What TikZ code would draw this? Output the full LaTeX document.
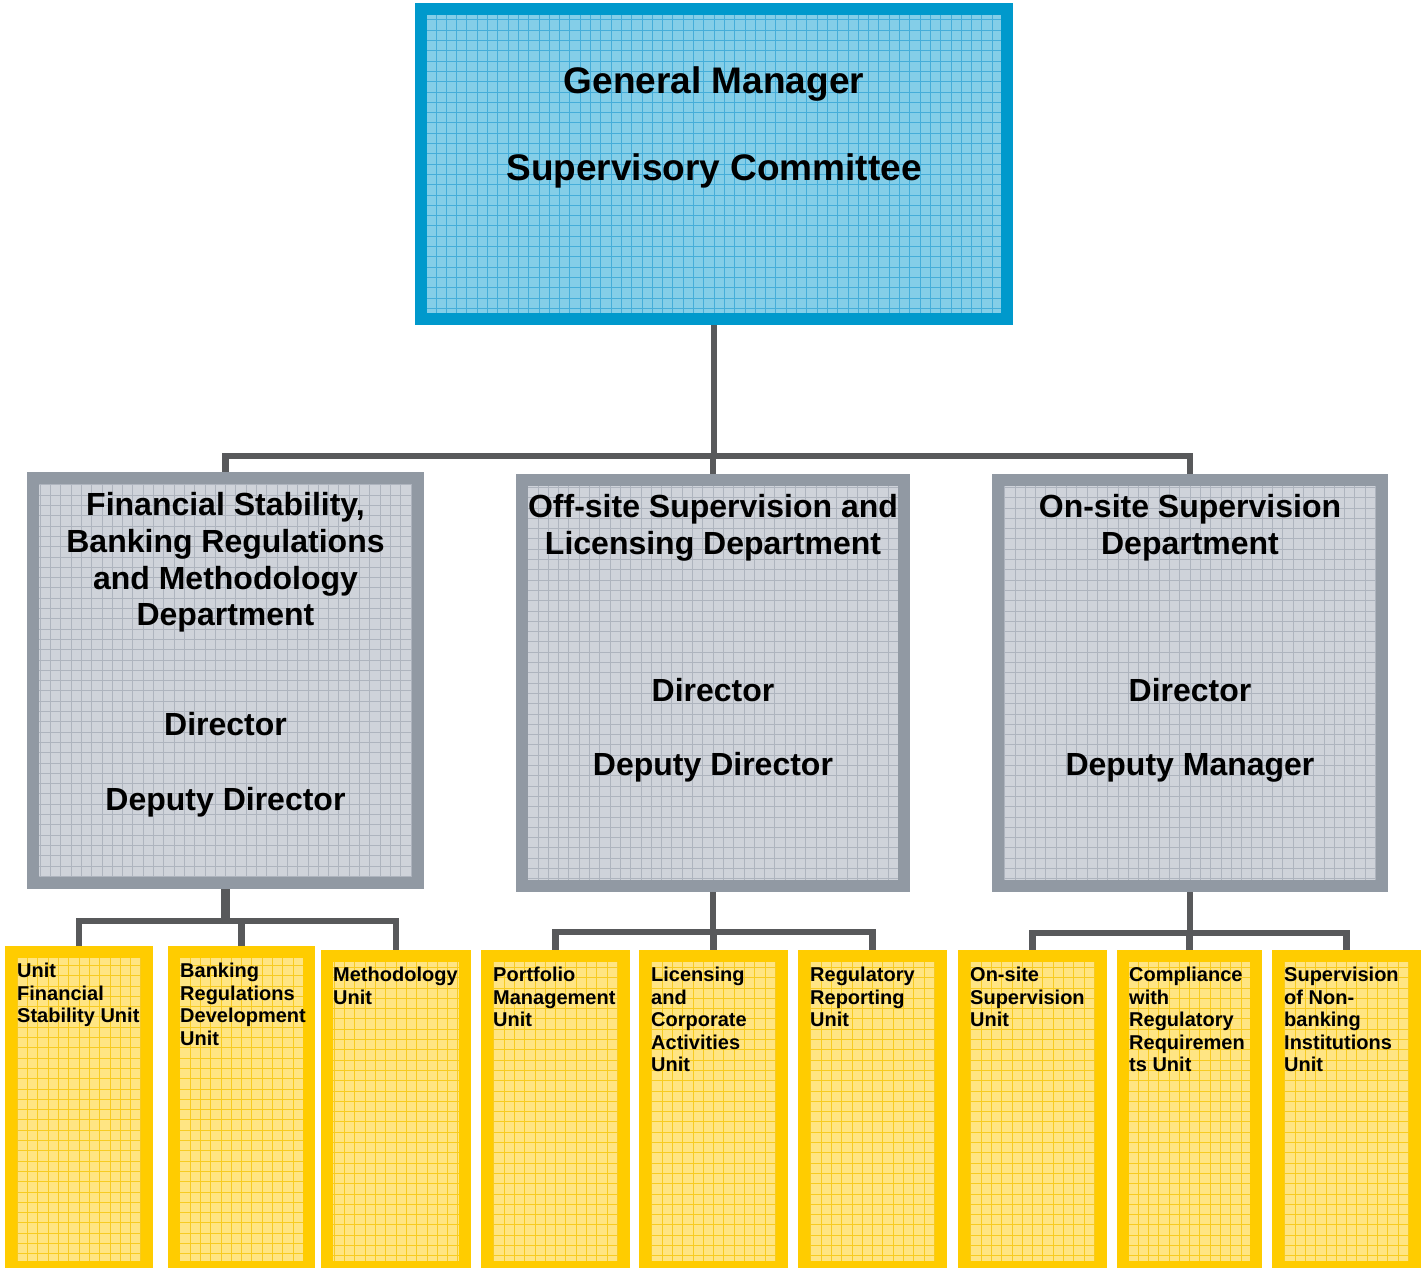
\documentclass[tikz,border=0pt]{standalone}
\usepackage{fontspec}
\setmainfont{Liberation Sans}
\definecolor{gmBorder}{HTML}{0099CC}
\definecolor{gmFill}{HTML}{84CEE8}
\definecolor{gmGrid}{HTML}{45ADD9}
\definecolor{dBorder}{HTML}{9199A3}
\definecolor{dFill}{HTML}{CFD3DA}
\definecolor{dGrid}{HTML}{AEB4BE}
\definecolor{uBorder}{HTML}{FFCC00}
\definecolor{uFill}{HTML}{FFE583}
\definecolor{uGrid}{HTML}{F7CB22}
\definecolor{connCol}{HTML}{58595B}
\newcommand\ubox[5]{%
  \node[ybox, minimum width={#3-#2-12}, minimum height={1273-#4-12}] (#1) at ({(#2+#3)/2},{(#4+1273)/2}) {};
  \node[utext] (#1t) at (#2+12,#4+17) {#5};}
\begin{document}
\begin{tikzpicture}[x=1pt,y=-1pt,
  box/.style={rectangle, line width=12pt, inner sep=0pt, outer sep=6pt},
  gridded/.style={path picture={\draw[line width=0.7pt, #1] (path picture bounding box.south west) grid[step=10.3pt] (path picture bounding box.north east);}},
  bluebox/.style={box, draw=gmBorder, fill=gmFill, gridded=gmGrid},
  graybox/.style={box, draw=dBorder, fill=dFill, gridded=dGrid},
  ybox/.style={box, draw=uBorder, fill=uFill, gridded=uGrid},
  conn/.style={draw=connCol, line width=6.5pt},
  gmtext/.style={font=\fontsize{37}{42}\selectfont\bfseries, align=center, inner sep=0pt, anchor=north},
  dtext/.style={font=\fontsize{32}{36.5}\selectfont\bfseries, align=center, inner sep=0pt, anchor=north},
  utext/.style={font=\fontsize{20}{22.5}\selectfont\bfseries, align=left, inner sep=0pt, anchor=north west},
]
\useasboundingbox (0,0) rectangle (1426,1267);
\fill[white] (0,0) rectangle (1426,1267);

% top box
\node[bluebox, minimum width=586, minimum height=310] (gm) at (714,164) {};
\node[gmtext] (gmt) at (714,66.5) {General Manager\\[45pt]Supervisory Committee};

% departments
\node[graybox, minimum width=385, minimum height=405] (d1) at (225.5,680.5) {};
\node[graybox, minimum width=382, minimum height=406] (d2) at (713,683) {};
\node[graybox, minimum width=384, minimum height=406] (d3) at (1190,683) {};

\node[dtext] (d1t) at (225.5,492.5) {Financial Stability,\\[0.2pt]Banking Regulations\\[0.2pt]and Methodology\\[0.2pt]Department};
\node[dtext] (d1s) at (225.5,712.5) {Director\\[38.5pt]Deputy Director};
\node[dtext] (d2t) at (713,494.5) {Off-site Supervision and\\Licensing Department};
\node[dtext] (d2s) at (713,678.5) {Director\\[37.5pt]Deputy Director};
\node[dtext] (d3t) at (1190,494.5) {On-site Supervision\\Department};
\node[dtext] (d3s) at (1190,678.5) {Director\\[37.5pt]Deputy Manager};

% units
\ubox{u1}{5}{153}{946}{Unit\\Financial\\Stability Unit}
\ubox{u2}{168}{315}{946}{Banking\\Regulations\\Development\\Unit}
\ubox{u3}{321}{471}{950}{Methodology\\Unit}
\ubox{u4}{481}{630}{950}{Portfolio\\Management\\Unit}
\ubox{u5}{639}{788}{950}{Licensing\\and\\Corporate\\Activities\\Unit}
\ubox{u6}{798}{947}{950}{Regulatory\\Reporting\\Unit}
\ubox{u7}{958}{1107}{950}{On-site\\Supervision\\Unit}
\ubox{u8}{1117}{1262}{950}{Compliance\\with\\Regulatory\\Requiremen\\ts Unit}
\ubox{u9}{1272}{1421}{950}{Supervision\\of Non-\\banking\\Institutions\\Unit}

% connectors
\coordinate (b0) at (714,456);
\draw[conn] (gm.south) -- (b0);
\draw[conn] (b0) -| (d1.north);
\draw[conn] (b0) -| (d2.north);
\draw[conn] (b0) -| (d3.north);

\coordinate (b1) at (225.5,921);
\draw[conn, line width=9pt] (d1.south) -- ++(0,35);
\draw[conn] (b1) -| (u1.north);
\draw[conn] (b1) -| (u2.north);
\draw[conn] (b1) -| (u3.north);

\coordinate (b2) at (713,932);
\draw[conn] (d2.south) -- (b2);
\draw[conn] (b2) -| (u4.north);
\draw[conn] (b2) -| (u5.north);
\draw[conn] (b2) -| (u6.north);

\coordinate (b3) at (1190,933);
\draw[conn] (d3.south) -- (b3);
\draw[conn] (b3) -| (u7.north);
\draw[conn] (b3) -| (u8.north);
\draw[conn] (b3) -| (u9.north);
\end{tikzpicture}
\end{document}
